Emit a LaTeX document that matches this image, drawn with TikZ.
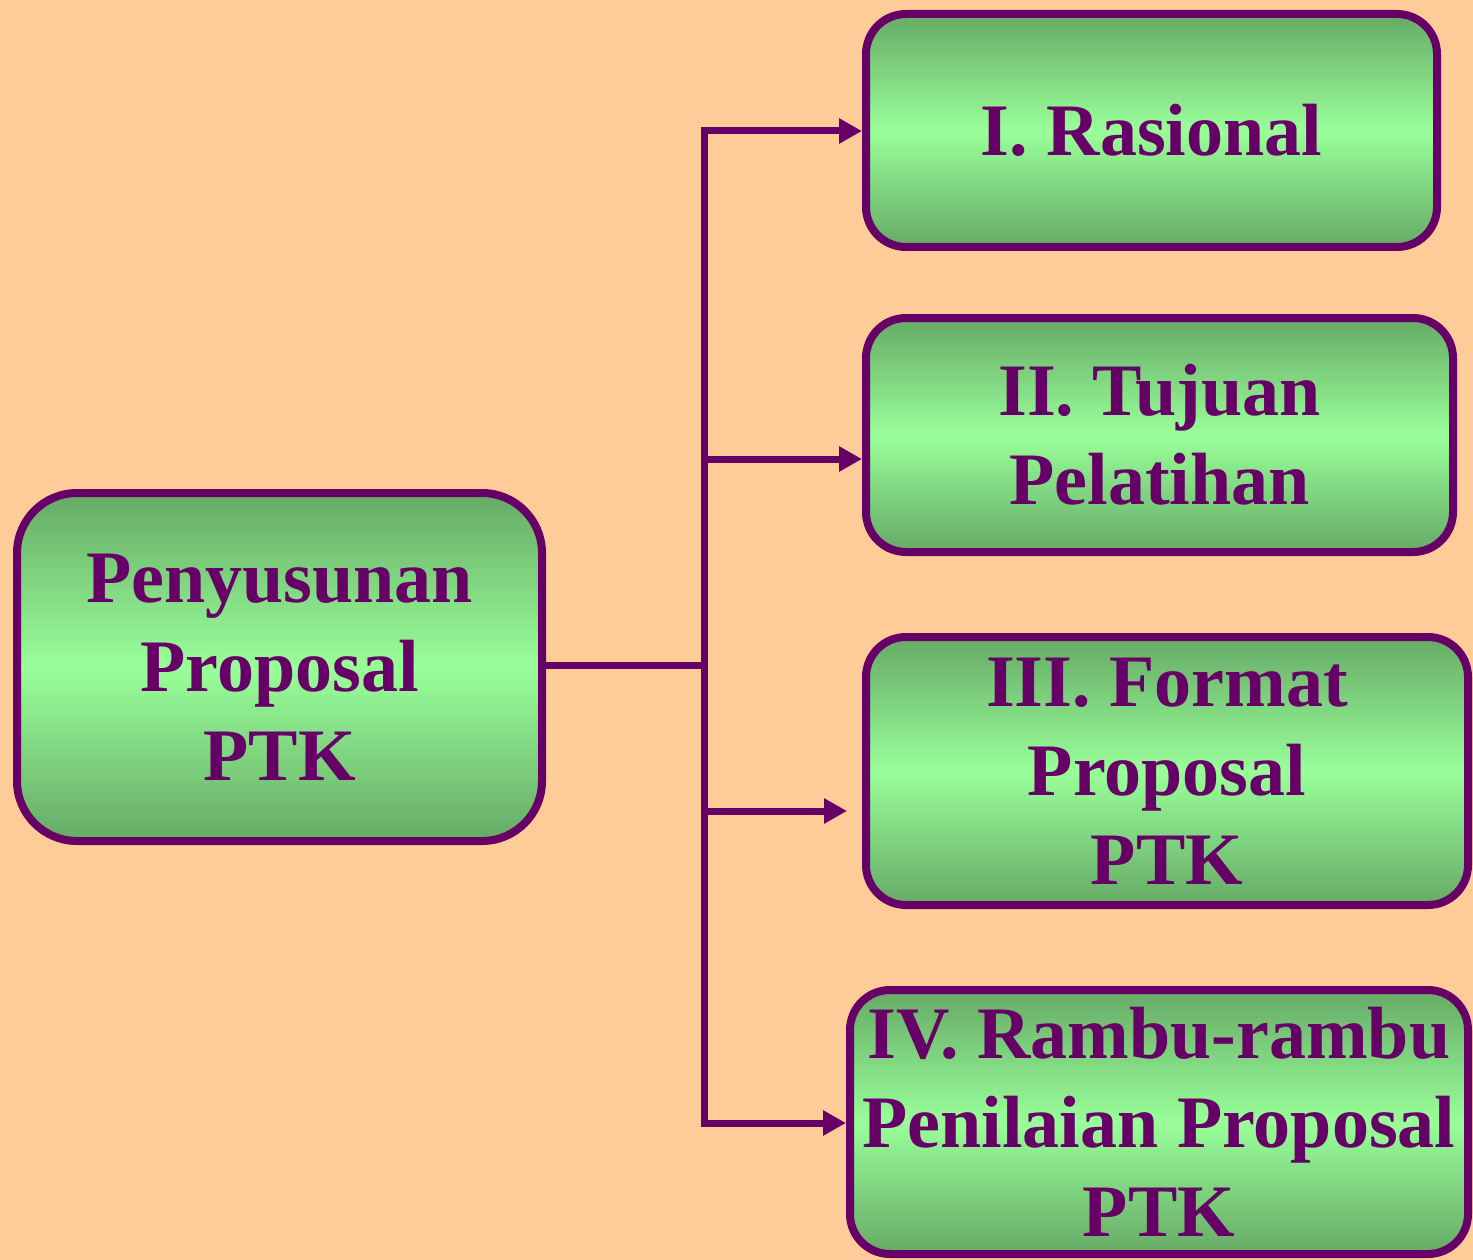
\documentclass[tikz,border=0pt]{standalone}
\usepackage{fontspec}
\setmainfont{Liberation Serif}
\usetikzlibrary{arrows.meta}
\definecolor{peach}{HTML}{FFCC99}
\definecolor{plum}{HTML}{660066}
\definecolor{gdark}{HTML}{66AA66}
\definecolor{glight}{HTML}{99FF99}
\tikzset{
  box/.style={draw=plum, line width=8pt, rounded corners=40pt, top color=gdark, bottom color=gdark, middle color=glight, shading=axis,
    align=center, inner sep=0pt, outer sep=4pt, text=plum, font=\fontsize{74}{89}\selectfont\bfseries},
  conn/.style={draw=plum, line width=7pt},
  arr/.style={conn, -{Triangle[length=23pt,width=24pt]}},
  darr/.style={conn, {Triangle[length=23pt,width=24pt]}-{Triangle[length=23pt,width=24pt]}}
}
\begin{document}
\begin{tikzpicture}[x=1pt,y=-1pt]
\fill[peach] (0,0) rectangle (1473,1260);
\useasboundingbox (0,0) rectangle (1473,1260);
\node[box, minimum width=525pt, minimum height=348pt, rounded corners=60pt] (root) at (279.5,667) {Penyusunan\\Proposal\\PTK};
\node[box, minimum width=571pt, minimum height=233pt] (b1) at (1151.5,130.5) {I. Rasional};
\node[box, minimum width=587pt, minimum height=234pt] (b2) at (1159.5,435) {II. Tujuan\\Pelatihan};
\node[box, minimum width=602pt, minimum height=268pt] (b3) at (1167,771) {III. Format\\Proposal\\PTK};
\node[box, minimum width=618pt, minimum height=264pt] (b4) at (1159,1122) {IV. Rambu-rambu\\Penilaian Proposal\\PTK};
\coordinate (j1) at (704,131);
\coordinate (j2) at (704,459);
\coordinate (j3) at (704,811);
\coordinate (j4) at (704,1123);
\coordinate (jm) at (704,665);
\draw[darr] (j1 -| b1.west) -- (j1) -- (j4) -- (j4 -| b4.west);
\draw[arr] (j2) -- (j2 -| b2.west);
\draw[arr, shorten >=15pt] (j3) -- (j3 -| b3.west);
\draw[conn] (root.east |- jm) -- (jm);
\end{tikzpicture}
\end{document}
